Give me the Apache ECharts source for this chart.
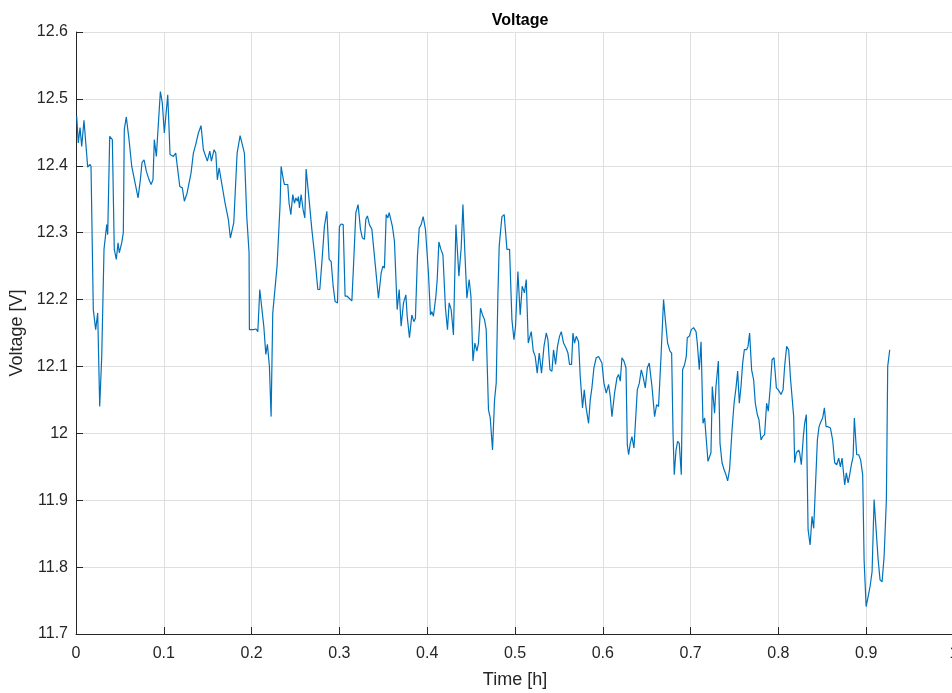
<!DOCTYPE html>
<html>
<head>
<meta charset="utf-8">
<script src="https://cdn.jsdelivr.net/npm/echarts@6/dist/echarts.min.js"></script>
<style>
html,body{margin:0;padding:0;background:#fff;}
#chart{width:952px;height:693px;}
</style>
</head>
<body>
<div id="chart"></div>
<script>
const titleText = 'Voltage';
const xName = 'Time [h]';
const yName = 'Voltage [V]';
const timeH = [0.0008,0.0026,0.0046,0.0065,0.0091,0.0133,0.0160,0.0171,0.0197,0.0224,0.0247,0.0270,0.0293,0.0319,0.0350,0.0361,0.0384,0.0414,0.0436,0.0459,0.0479,0.0493,0.0521,0.0539,0.0550,0.0573,0.0604,0.0635,0.0658,0.0680,0.0707,0.0733,0.0752,0.0775,0.0801,0.0832,0.0855,0.0877,0.0892,0.0915,0.0934,0.0961,0.0983,0.1006,0.1045,0.1071,0.1109,0.1136,0.1154,0.1182,0.1211,0.1234,0.1265,0.1310,0.1337,0.1364,0.1394,0.1424,0.1451,0.1496,0.1524,0.1542,0.1573,0.1592,0.1610,0.1630,0.1652,0.1698,0.1736,0.1758,0.1797,0.1835,0.1869,0.1918,0.1945,0.1971,0.1975,0.2020,0.2051,0.2071,0.2093,0.2108,0.2139,0.2162,0.2180,0.2203,0.2222,0.2241,0.2260,0.2290,0.2325,0.2336,0.2362,0.2374,0.2393,0.2412,0.2427,0.2447,0.2469,0.2488,0.2504,0.2522,0.2533,0.2545,0.2564,0.2587,0.2606,0.2621,0.2655,0.2686,0.2723,0.2754,0.2777,0.2800,0.2829,0.2857,0.2883,0.2906,0.2929,0.2951,0.2978,0.3000,0.3020,0.3043,0.3065,0.3088,0.3111,0.3142,0.3164,0.3187,0.3213,0.3240,0.3262,0.3285,0.3301,0.3319,0.3342,0.3370,0.3399,0.3445,0.3476,0.3495,0.3513,0.3533,0.3552,0.3567,0.3578,0.3604,0.3627,0.3658,0.3681,0.3703,0.3730,0.3757,0.3772,0.3798,0.3825,0.3848,0.3866,0.3889,0.3909,0.3931,0.3954,0.3980,0.4014,0.4037,0.4053,0.4071,0.4099,0.4114,0.4133,0.4156,0.4179,0.4208,0.4231,0.4250,0.4273,0.4299,0.4327,0.4361,0.4387,0.4407,0.4429,0.4452,0.4478,0.4498,0.4521,0.4543,0.4566,0.4584,0.4607,0.4630,0.4653,0.4672,0.4698,0.4718,0.4744,0.4767,0.4786,0.4805,0.4820,0.4851,0.4877,0.4908,0.4938,0.4965,0.4988,0.5006,0.5033,0.5059,0.5082,0.5108,0.5128,0.5151,0.5170,0.5185,0.5208,0.5230,0.5253,0.5276,0.5302,0.5330,0.5356,0.5375,0.5398,0.5421,0.5439,0.5462,0.5484,0.5507,0.5527,0.5553,0.5580,0.5603,0.5621,0.5644,0.5660,0.5678,0.5698,0.5724,0.5743,0.5769,0.5789,0.5808,0.5838,0.5857,0.5876,0.5899,0.5925,0.5952,0.5990,0.6013,0.6039,0.6066,0.6085,0.6104,0.6134,0.6161,0.6180,0.6199,0.6218,0.6241,0.6264,0.6279,0.6294,0.6313,0.6332,0.6355,0.6370,0.6393,0.6416,0.6438,0.6458,0.6484,0.6507,0.6529,0.6560,0.6590,0.6613,0.6635,0.6663,0.6692,0.6712,0.6738,0.6765,0.6784,0.6800,0.6814,0.6834,0.6852,0.6871,0.6894,0.6909,0.6932,0.6951,0.6962,0.6985,0.7008,0.7034,0.7062,0.7076,0.7099,0.7119,0.7141,0.7160,0.7179,0.7198,0.7217,0.7232,0.7247,0.7273,0.7289,0.7316,0.7335,0.7358,0.7381,0.7403,0.7422,0.7444,0.7472,0.7495,0.7517,0.7536,0.7555,0.7574,0.7593,0.7612,0.7638,0.7654,0.7672,0.7695,0.7718,0.7737,0.7760,0.7779,0.7802,0.7820,0.7843,0.7866,0.7885,0.7908,0.7928,0.7950,0.7977,0.7999,0.8030,0.8053,0.8071,0.8094,0.8117,0.8139,0.8155,0.8174,0.8185,0.8204,0.8231,0.8242,0.8261,0.8284,0.8299,0.8318,0.8338,0.8361,0.8383,0.8402,0.8424,0.8444,0.8463,0.8486,0.8504,0.8524,0.8543,0.8566,0.8592,0.8618,0.8641,0.8664,0.8687,0.8706,0.8725,0.8744,0.8755,0.8774,0.8794,0.8809,0.8831,0.8851,0.8865,0.8892,0.8915,0.8937,0.8960,0.8976,0.8999,0.9022,0.9044,0.9067,0.9090,0.9113,0.9136,0.9158,0.9181,0.9204,0.9230,0.9245,0.9268];
const voltageV = [12.474,12.434,12.457,12.429,12.468,12.398,12.402,12.399,12.185,12.155,12.180,12.040,12.115,12.275,12.312,12.297,12.444,12.439,12.275,12.260,12.285,12.270,12.285,12.300,12.454,12.473,12.439,12.399,12.384,12.382,12.352,12.379,12.405,12.409,12.392,12.379,12.372,12.379,12.439,12.414,12.414,12.511,12.494,12.449,12.506,12.417,12.414,12.419,12.399,12.369,12.367,12.347,12.359,12.389,12.419,12.432,12.449,12.460,12.424,12.407,12.422,12.407,12.424,12.419,12.379,12.397,12.399,12.344,12.319,12.292,12.315,12.419,12.445,12.419,12.324,12.270,12.155,12.155,12.156,12.152,12.215,12.216,12.160,12.118,12.133,12.100,12.025,12.180,12.207,12.250,12.344,12.399,12.379,12.372,12.374,12.372,12.344,12.327,12.357,12.344,12.352,12.347,12.354,12.337,12.357,12.334,12.322,12.395,12.349,12.305,12.260,12.215,12.215,12.255,12.309,12.332,12.260,12.257,12.220,12.197,12.195,12.309,12.313,12.312,12.205,12.205,12.202,12.198,12.260,12.330,12.342,12.305,12.292,12.290,12.320,12.325,12.312,12.305,12.265,12.202,12.240,12.250,12.247,12.327,12.322,12.330,12.332,12.309,12.287,12.185,12.215,12.160,12.195,12.207,12.175,12.143,12.177,12.167,12.172,12.265,12.307,12.312,12.324,12.305,12.240,12.177,12.182,12.175,12.205,12.230,12.286,12.275,12.267,12.187,12.155,12.195,12.185,12.147,12.312,12.235,12.277,12.342,12.270,12.202,12.230,12.205,12.108,12.135,12.123,12.135,12.187,12.177,12.170,12.155,12.035,12.023,11.975,12.050,12.075,12.205,12.280,12.324,12.327,12.275,12.275,12.170,12.140,12.160,12.242,12.177,12.220,12.210,12.230,12.135,12.145,12.152,12.123,12.115,12.090,12.120,12.090,12.130,12.150,12.140,12.095,12.093,12.125,12.103,12.130,12.145,12.152,12.135,12.128,12.120,12.103,12.103,12.150,12.135,12.145,12.137,12.085,12.038,12.065,12.040,12.015,12.050,12.068,12.098,12.113,12.115,12.105,12.075,12.060,12.073,12.055,12.025,12.060,12.083,12.088,12.078,12.113,12.108,12.098,11.983,11.968,11.985,11.995,11.978,11.980,12.065,12.075,12.095,12.085,12.068,12.098,12.105,12.070,12.025,12.043,12.040,12.115,12.200,12.170,12.135,12.123,12.120,12.000,11.938,11.975,11.988,11.985,11.938,12.095,12.103,12.115,12.143,12.145,12.155,12.158,12.152,12.135,12.095,12.137,12.015,12.023,11.990,11.958,11.960,11.971,12.070,12.030,12.070,12.108,11.985,11.956,11.946,11.938,11.929,11.946,12.005,12.045,12.068,12.093,12.045,12.070,12.105,12.125,12.125,12.130,12.150,12.095,12.080,12.045,12.028,12.020,11.990,11.995,11.998,12.045,12.033,12.070,12.110,12.113,12.068,12.065,12.058,12.065,12.100,12.130,12.125,12.080,12.055,12.025,11.956,11.971,11.975,11.971,11.953,11.995,12.015,12.028,11.856,11.833,11.876,11.858,11.858,11.990,12.010,12.018,12.023,12.038,12.010,12.010,12.008,11.990,11.956,11.953,11.963,11.950,11.963,11.938,11.923,11.941,11.926,11.936,11.953,11.965,12.023,11.968,11.968,11.960,11.938,11.811,11.741,11.756,11.771,11.793,11.901,11.856,11.811,11.781,11.778,11.816,11.901,12.100,12.125];

const chart = echarts.init(document.getElementById('chart'), null, {renderer: 'canvas'});
const txt = '#262626';
const fam = '"Liberation Sans", Arial, Helvetica, sans-serif';
chart.setOption({
  animation: false,
  backgroundColor: '#ffffff',
  title: {
    text: titleText, left: 515, top: 8, textAlign: 'center',
    textStyle: {fontFamily: fam, fontSize: 16, fontWeight: 'bold', color: '#000'}
  },
  grid: {left: 76, right: -2, top: 32, bottom: 59, containLabel: false, outerBoundsMode: 'none'},
  xAxis: {
    type: 'value', min: 0, max: 1, interval: 0.1,
    name: xName, nameLocation: 'middle', nameGap: 37,
    nameTextStyle: {fontFamily: fam, fontSize: 18, color: txt},
    axisLine: {show: true, lineStyle: {color: txt, width: 1}},
    axisTick: {show: true, inside: true, length: 7, lineStyle: {color: txt}},
    axisLabel: {fontFamily: fam, fontSize: 16, color: txt, margin: 12,
      formatter: v => String(+v.toFixed(1))},
    splitLine: {show: true, lineStyle: {color: '#dfdfdf', width: 1}}
  },
  yAxis: {
    type: 'value', min: 11.7, max: 12.6, interval: 0.1,
    name: yName, nameLocation: 'middle', nameGap: 47, nameRotate: 90,
    nameTextStyle: {fontFamily: fam, fontSize: 18, color: txt},
    axisLine: {show: true, lineStyle: {color: txt, width: 1}},
    axisTick: {show: true, inside: true, length: 7, lineStyle: {color: txt}},
    axisLabel: {fontFamily: fam, fontSize: 16, color: txt, margin: 8,
      formatter: v => String(+v.toFixed(1))},
    splitLine: {show: true, lineStyle: {color: '#dfdfdf', width: 1}}
  },
  series: [{
    type: 'line',
    data: timeH.map((t, i) => [t, voltageV[i]]),
    showSymbol: false,
    symbol: 'none',
    lineStyle: {color: '#0072BD', width: 1.2},
    clip: true
  }]
});
</script>
</body>
</html>
